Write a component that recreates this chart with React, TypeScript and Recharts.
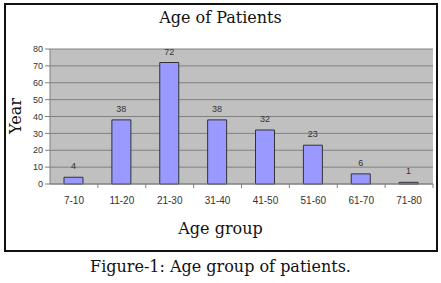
import { BarChart, Bar, XAxis, YAxis, CartesianGrid, LabelList } from 'recharts';

const ageGroups = ['7-10', '11-20', '21-30', '31-40', '41-50', '51-60', '61-70', '71-80'];
const patientCounts = [4, 38, 72, 38, 32, 23, 6, 1];
const yTicks = [0, 10, 20, 30, 40, 50, 60, 70, 80];

const data = ageGroups.map((group, i) => ({ group, count: patientCounts[i] }));

const serif = '"DejaVu Serif", "Liberation Serif", serif';
const sans = '"Liberation Sans", Arial, sans-serif';

const BAND = (433 - 50) / ageGroups.length;

function XTick({ x, y, payload }: any) {
  return (
    <g>
      <line x1={x + BAND / 2} y1={y - 8} x2={x + BAND / 2} y2={y - 4} stroke="#808080" />
      <text x={x} y={y + 12} textAnchor="middle" fontSize={10} fill="#333" fontFamily={sans}>
        {payload.value}
      </text>
    </g>
  );
}

export default function App() {
  return (
    <div style={{ position: 'absolute', left: 0, top: 0, width: 441, height: 283, background: '#fff' }}>
      <div
        style={{
          position: 'absolute',
          left: 4,
          top: 3,
          width: 430,
          height: 245,
          border: '2px solid #111',
        }}
      />
      <div style={{ position: 'absolute', left: 0, top: 8, width: 441, textAlign: 'center', fontFamily: serif, fontSize: 16, color: '#111' }}>
        Age of Patients
      </div>
      <div
        style={{
          position: 'absolute',
          left: 15,
          top: 116,
          transform: 'translate(-50%, -50%) rotate(-90deg)',
          fontFamily: serif,
          fontSize: 16,
          color: '#111',
        }}
      >
        Year
      </div>
      <div style={{ position: 'absolute', left: 0, top: 219, width: 441, textAlign: 'center', fontFamily: serif, fontSize: 16, color: '#111' }}>
        Age group
      </div>
      <div style={{ position: 'absolute', left: 0, top: 257, width: 441, textAlign: 'center', fontFamily: serif, fontSize: 16, color: '#111' }}>
        Figure-1: Age group of patients.
      </div>
      <div style={{ position: 'absolute', left: 0, top: 0 }}>
        <BarChart width={441} height={283} data={data} margin={{ top: 49, right: 8, bottom: 69, left: 20 }} barCategoryGap={0}>
          <CartesianGrid vertical={false} fill="#c0c0c0" fillOpacity={1} stroke="#808080" strokeWidth={1} />
          <XAxis
            dataKey="group"
            height={30}
            tickLine={false}
            axisLine={{ stroke: '#808080' }}
            tick={<XTick />}
            interval={0}
          />
          <YAxis
            width={30}
            domain={[0, 80]}
            ticks={yTicks}
            interval={0}
            tickSize={5}
            tickLine={{ stroke: '#808080' }}
            axisLine={{ stroke: '#808080' }}
            tick={{ fontSize: 9, fill: '#333', fontFamily: sans }}
          />
          <Bar dataKey="count" fill="#9999ff" stroke="#333" strokeWidth={1} barSize={19} isAnimationActive={false}>
            <LabelList dataKey="count" position="top" offset={8} fontSize={9} fill="#333" fontFamily={sans} />
          </Bar>
        </BarChart>
      </div>
    </div>
  );
}
